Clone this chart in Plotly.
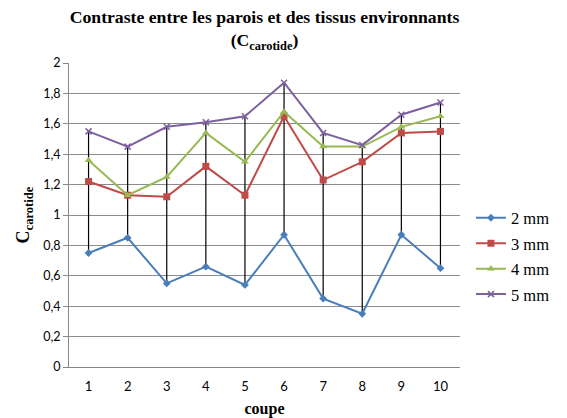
import plotly.graph_objects as go

# Section number along the artery
coupe = [1, 2, 3, 4, 5, 6, 7, 8, 9, 10]

# Wall / surrounding tissue contrast for each slice thickness
c_2mm = [0.75, 0.85, 0.55, 0.66, 0.54, 0.87, 0.45, 0.35, 0.87, 0.65]
c_3mm = [1.22, 1.13, 1.12, 1.32, 1.13, 1.65, 1.23, 1.35, 1.54, 1.55]
c_4mm = [1.36, 1.13, 1.25, 1.54, 1.35, 1.68, 1.45, 1.45, 1.58, 1.65]
c_5mm = [1.55, 1.45, 1.58, 1.61, 1.65, 1.87, 1.54, 1.46, 1.66, 1.74]

series_names = ["2 mm", "3 mm", "4 mm", "5 mm"]
series_values = [c_2mm, c_3mm, c_4mm, c_5mm]
colors = ["#4A7EBB", "#BE4B48", "#98B954", "#7D60A0"]
symbols = ["diamond", "square", "triangle-up", "x-thin"]
sizes = [6, 7, 7, 6]

fig = go.Figure()

# High-low lines joining the lowest and highest value of each section
hl_x, hl_y = [], []
for i, c in enumerate(coupe):
    vals = [s[i] for s in series_values]
    hl_x += [c, c, None]
    hl_y += [min(vals), max(vals), None]
fig.add_trace(go.Scatter(x=hl_x, y=hl_y, mode="lines",
                         line=dict(color="black", width=1.2),
                         showlegend=False, hoverinfo="skip"))

for k, (name, vals) in enumerate(zip(series_names, series_values)):
    marker = dict(symbol=symbols[k], size=sizes[k], color=colors[k])
    if symbols[k] == "x-thin":
        marker["line"] = dict(color=colors[k], width=1.5)
    fig.add_trace(go.Scatter(
        x=coupe, y=vals, mode="lines+markers", name=name,
        line=dict(color=colors[k], width=2),
        marker=marker, legendgroup=name,
    ))

serif = "Liberation Serif"
sans = "Lato"

fig.update_layout(
    width=567, height=418,
    margin=dict(l=69, r=104, t=63, b=51),
    paper_bgcolor="white", plot_bgcolor="white",
    separators=", ",
    title=dict(
        text="<b>Contraste entre les parois et des tissus environnants<br>(C<sub>carotide</sub>)</b>",
        x=0.5, xanchor="center", xref="paper",
        yref="container", y=0.945, yanchor="middle",
        font=dict(family=serif, size=17.7, color="black"),
    ),
    xaxis=dict(
        range=[0.5, 10.5], tickvals=coupe, ticktext=[str(c) for c in coupe],
        showgrid=False, zeroline=False, automargin=False,
        showline=True, linecolor="#868686", linewidth=1,
        ticks="", ticklabelstandoff=7,
        tickfont=dict(family=sans, size=13, color="black"),
        title=dict(text="<b>coupe</b>", font=dict(family=serif, size=16, color="black"), standoff=16),
    ),
    yaxis=dict(
        range=[0, 2], dtick=0.2, tickformat=".1~f",
        showgrid=True, gridcolor="#8C8C8C", gridwidth=1,
        zeroline=False, automargin=False,
        showline=True, linecolor="#868686", linewidth=1,
        ticks="outside", ticklen=5, tickcolor="#868686",
        tickfont=dict(family=sans, size=12.5, color="black"),
        title=dict(text="<b>C<sub>carotide</sub></b>", font=dict(family=serif, size=18, color="black"), standoff=8),
    ),
    legend=dict(
        x=1.028, xanchor="left", y=0.365, yanchor="middle",
        font=dict(family=serif, size=16.5, color="black"),
        traceorder="grouped", tracegroupgap=1,
        itemwidth=30, bgcolor="rgba(0,0,0,0)",
    ),
)

fig.write_html("out.html")
